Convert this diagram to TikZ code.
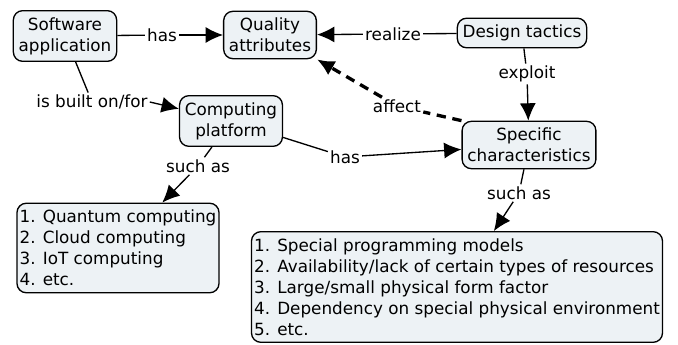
\documentclass[tikz,border=0pt]{standalone}
\usepackage{fontspec}
\setmainfont{DejaVu Sans}
\usetikzlibrary{arrows.meta}
\definecolor{boxfill}{HTML}{EDF2F5}
\begin{document}
\begin{tikzpicture}[x=0.75pt,y=-0.75pt,
    concept/.style={draw,line width=1pt,rounded corners=7pt,fill=boxfill,
      align=center,inner xsep=4pt,inner ysep=5pt,font=\fontsize{12.6}{15.8}\selectfont},
    listbox/.style={concept,align=left,inner xsep=2pt},
    link/.style={inner sep=1.5pt,font=\fontsize{12.6}{15.8}\selectfont},
    arr/.style={-{Latex[length=13pt,width=12pt]},line width=1pt},
    ln/.style={line width=1pt}]
  \useasboundingbox (0,0) rectangle (678,345);

  \node[concept] (soft) at (65,36) {Software\\application};
  \node[concept] (qual) at (270,35) {Quality\\attributes};
  \node[concept] (tact) at (522,33) {Design tactics};
  \node[concept] (plat) at (231,121) {Computing\\platform};
  \node[concept] (spec) at (529,145) {Specific\\characteristics};
  \node[listbox] (ex1) at (118,248) {1. Quantum computing\\2. Cloud computing\\3. IoT computing\\4. etc.};
  \node[listbox] (ex2) at (457,287) {1. Special programming models\\2. Availability/lack of certain types of resources\\3. Large/small physical form factor\\4. Dependency on special physical environment\\5. etc.};

  \node[link] (has1) at (162,35) {has};
  \node[link] (real) at (393,34) {realize};
  \node[link] (expl) at (527,74) {exploit};
  \node[link] (aff) at (397,106) {affect};
  \node[link] (built) at (92,102) {is built on/for};
  \node[link] (has2) at (345,157) {has};
  \node[link] (such1) at (198,166) {such as};
  \node[link] (such2) at (519,193) {such as};

  \draw[ln] (soft) -- (has1);
  \draw[arr] (has1) -- (qual);
  \draw[ln] (tact) -- (real);
  \draw[arr] (real) -- (qual);
  \draw[ln] (tact) -- (expl);
  \draw[arr] (expl) -- (spec);
  \draw[ln,line width=2.5pt,dash pattern=on 7pt off 5pt] (spec.north west) -- (aff);
  \draw[arr,line width=2.5pt,dash pattern=on 7pt off 5pt] (aff) -- (qual.south east);
  \draw[ln] (soft) -- (built);
  \draw[arr] (built.east) -- (plat);
  \draw[ln] (plat) -- (has2);
  \draw[arr] (has2) -- (spec);
  \draw[ln] (plat) -- (such1);
  \draw[arr] (such1) -- (ex1);
  \draw[ln] (spec) -- (such2);
  \draw[arr] (such2) -- (ex2);
\end{tikzpicture}
\end{document}
